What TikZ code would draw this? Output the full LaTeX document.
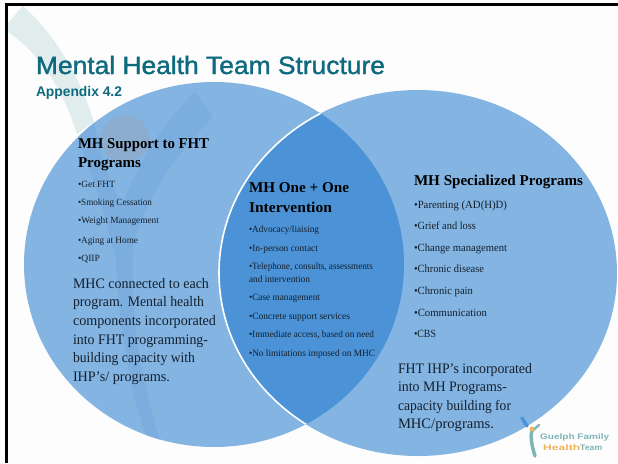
\documentclass[tikz,border=0pt]{standalone}
\usepackage{fontspec}
\usepackage{graphicx}
\setmainfont{Liberation Serif}
\setsansfont{Liberation Sans}
\newfontfamily\titlefont[FakeBold=1.3]{Liberation Sans}
\newcommand{\fitw}[2]{\resizebox{#1pt}{\height}{#2}}
\definecolor{circ}{HTML}{83B4E2}
\definecolor{lens}{HTML}{4B92D6}
\definecolor{wmark}{HTML}{7BAEDE}
\definecolor{whead}{HTML}{8CADCF}
\definecolor{swoosh}{HTML}{E0EDEC}
\definecolor{pageoff}{HTML}{FDFDFD}
\definecolor{teal}{HTML}{0E6A7E}
\definecolor{ink}{HTML}{14202E}
\definecolor{logoteal}{HTML}{7FB5B5}
\definecolor{logoorange}{HTML}{F0B45A}
\tikzset{
  txt/.style={anchor=base west,inner sep=0pt,outer sep=0pt,text=ink},
  head/.style={txt,font=\fontsize{15}{19}\selectfont\bfseries,text=black},
  itemS/.style={txt,font=\fontsize{9.5}{13}\selectfont},
  itemM/.style={txt,font=\fontsize{9.6}{13}\selectfont},
  itemL/.style={txt,font=\fontsize{11}{13}\selectfont},
  para/.style={txt,font=\fontsize{14.5}{18.6}\selectfont},
  logotxt/.style={anchor=base west,inner sep=0pt,font=\sffamily\bfseries\fontsize{8}{8}\selectfont},
}
\begin{document}
\begin{tikzpicture}[x=1pt,y=-1pt]
\useasboundingbox (0,0) rectangle (618,463);
\fill[white] (0,0) rectangle (618,463);
\fill[pageoff] (7,5) rectangle (618,463);
% slide frame
\fill[black] (5,3) rectangle (618,5.5);
\fill[black] (5,3) rectangle (7.5,463);
% background swoosh
\fill[swoosh] (8,23) -- (23,6) .. controls (50,30) and (78,70) .. (94,122)
  -- (77,134) .. controls (62,85) and (35,50) .. (8,32) -- cycle;
% circles
\fill[circ] (214,264.5) ellipse [x radius=190,y radius=182.5];
\fill[circ] (418,273) ellipse [x radius=199,y radius=183];
% watermark in the left circle
\begin{scope}
\clip (214,264.5) ellipse [x radius=190,y radius=182.5];
\fill[wmark] (77,134) -- (94,122) .. controls (100,150) and (108,180) .. (122,205)
  .. controls (135,170) and (160,125) .. (195,92) -- (213,117)
  .. controls (180,150) and (150,190) .. (134,240)
  .. controls (128,300) and (140,380) .. (160,440) -- (150,445)
  .. controls (130,400) and (118,320) .. (116,260)
  .. controls (104,210) and (90,170) .. (77,134) -- cycle;
\fill[whead] (125,139) circle [radius=24];
\end{scope}
% intersection
\begin{scope}
\clip (214,264.5) ellipse [x radius=190,y radius=182.5];
\fill[lens] (418,273) ellipse [x radius=199,y radius=183];
\draw[white,line width=1.6pt] (418,273) ellipse [x radius=199,y radius=183];
\end{scope}
% title
\node[txt,text=teal,font=\titlefont\fontsize{25}{30}\selectfont] (title) at (36,74) {\fitw{349}{Mental Health Team Structure}};
\node[txt,text=teal,font=\sffamily\bfseries\fontsize{14}{15}\selectfont] (app) at (36,96) {\fitw{86}{Appendix 4.2}};
% left circle
\node[head] (l1) at (78,148) {\fitw{131}{MH Support to FHT}};
\node[head] (l2) at (78,167) {\fitw{63}{Programs}};
\node[itemS] (l3) at (78,187) {\fitw{37}{•Get FHT}};
\node[itemS] (l4) at (78,205.5) {\fitw{74}{•Smoking Cessation}};
\node[itemS] (l5) at (78,223.5) {\fitw{81}{•Weight Management}};
\node[itemS] (l6) at (78,243) {\fitw{60}{•Aging at Home}};
\node[itemS] (l7) at (78,261) {\fitw{22}{•QIIP}};
\node[para] (lp1) at (73,288) {\fitw{136}{MHC connected to each}};
\node[para] (lp2) at (73,306) {\fitw{131}{program. Mental health}};
\node[para] (lp3) at (73,325) {\fitw{143}{components incorporated}};
\node[para] (lp4) at (73,344) {\fitw{135}{into FHT programming-}};
\node[para] (lp5) at (73,362) {\fitw{122}{building capacity with}};
\node[para] (lp6) at (73,381) {\fitw{97}{IHP’s/ programs.}};
% middle
\node[head] (m1) at (249,192.5) {\fitw{100}{MH One + One}};
\node[head] (m2) at (249,212) {\fitw{83}{Intervention}};
\node[itemM] (m3) at (249,232) {\fitw{70}{•Advocacy/liaising}};
\node[itemM] (m4) at (249,251) {\fitw{69}{•In-person contact}};
\node[itemM] (m5) at (249,269) {\fitw{124}{•Telephone, consults, assessments}};
\node[itemM] (m6) at (249,282) {\fitw{61}{and intervention}};
\node[itemM] (m7) at (249,300) {\fitw{71}{•Case management}};
\node[itemM] (m8) at (249,319) {\fitw{101}{•Concrete support services}};
\node[itemM] (m9) at (249,337) {\fitw{125}{•Immediate access, based on need}};
\node[itemM] (m10) at (249,356) {\fitw{126}{•No limitations imposed on MHC}};
% right
\node[head] (r1) at (414,185) {\fitw{169}{MH Specialized Programs}};
\node[itemL] (r2) at (414,208) {\fitw{93}{•Parenting (AD(H)D)}};
\node[itemL] (r3) at (414,229) {\fitw{62}{•Grief and loss}};
\node[itemL] (r4) at (414,251) {\fitw{93}{•Change management}};
\node[itemL] (r5) at (414,272) {\fitw{70}{•Chronic disease}};
\node[itemL] (r6) at (414,294) {\fitw{59}{•Chronic pain}};
\node[itemL] (r7) at (414,316) {\fitw{73}{•Communication}};
\node[itemL] (r8) at (414,337) {\fitw{22}{•CBS}};
\node[para] (rp1) at (398,373) {\fitw{134}{FHT IHP’s incorporated}};
\node[para] (rp2) at (398,391) {\fitw{109}{into MH Programs-}};
\node[para] (rp3) at (398,410) {\fitw{113}{capacity building for}};
\node[para] (rp4) at (398,428) {\fitw{96}{MHC/programs.}};
% logo
\draw[color=logoteal,line width=3.5pt,line cap=round] (532,430) .. controls (530,438) and (532,446) .. (535,456);
\draw[color=logoteal,line width=2.4pt,line cap=round] (531,432) -- (539,425);
\draw[color=lens,line width=3.5pt,line cap=round] (522,418) -- (527,426);
\fill[logoorange] (532,429) circle [radius=2.4];
\node[logotxt,text=logoteal] (logoa) at (540,439) {\fitw{69}{Guelph Family}};
\node[logotxt,text=logoorange] (logob) at (543,450) {\fitw{37}{Health}};
\node[logotxt,text=logoteal] (logoc) at (580,450) {\fitw{22}{Team}};
\end{tikzpicture}
\end{document}
